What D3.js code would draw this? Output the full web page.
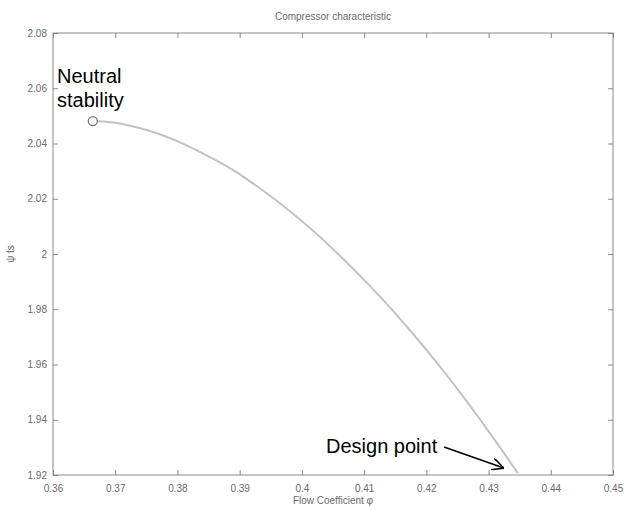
<!DOCTYPE html>
<html><head><meta charset="utf-8">
<script src="https://cdn.jsdelivr.net/npm/d3@7"></script>
<style>body{margin:0;background:#fff}</style>
</head><body>
<svg id="c" width="632" height="510"></svg>
<script>
// Data
const flowCoef = [0.3664, 0.3700, 0.3724, 0.3756, 0.3804, 0.3852, 0.3885, 0.3933, 0.3981, 0.4029, 0.4077, 0.4126, 0.4174, 0.4222, 0.4270, 0.4318, 0.4347];
const psiTs    = [2.0481, 2.0475, 2.0464, 2.0445, 2.0404, 2.0351, 2.0310, 2.0237, 2.0155, 2.0062, 1.9958, 1.9845, 1.9723, 1.9592, 1.9451, 1.9301, 1.9207];
const xTicks = [0.36, 0.37, 0.38, 0.39, 0.40, 0.41, 0.42, 0.43, 0.44, 0.45];
const yTicks = [1.92, 1.94, 1.96, 1.98, 2.00, 2.02, 2.04, 2.06, 2.08];
const neutralPoint = {x: 0.3664, y: 2.0481};
const designPoint = {x: 0.4347, y: 1.9207};

const svg = d3.select('#c');
const L = 53, R = 613, T = 33, B = 475;
const x = d3.scaleLinear().domain([0.36, 0.45]).range([L, R]);
const y = d3.scaleLinear().domain([1.92, 2.08]).range([B, T]);
const axCol = '#8a8a8a', txtCol = '#6a6a6a';
const fmt = d => String(+d.toFixed(2));

// box
svg.append('rect').attr('x', L).attr('y', T).attr('width', R - L).attr('height', B - T)
  .attr('fill', 'none').attr('stroke', axCol).attr('stroke-width', 1);

function styleAxis(g){
  g.select('.domain').remove();
  g.selectAll('line').attr('stroke', axCol);
  g.selectAll('text').attr('fill', txtCol).style('font-family', 'Arial, Liberation Sans, sans-serif').style('font-size', '10px');
}
svg.append('g').attr('transform', `translate(0,${B})`)
  .call(d3.axisBottom(x).tickValues(xTicks).tickFormat(fmt).tickSizeInner(-5).tickPadding(10))
  .call(styleAxis);
svg.append('g').attr('transform', `translate(0,${T})`)
  .call(d3.axisTop(x).tickValues(xTicks).tickFormat('').tickSizeInner(-5))
  .call(styleAxis);
svg.append('g').attr('transform', `translate(${L},0)`)
  .call(d3.axisLeft(y).tickValues(yTicks).tickFormat(fmt).tickSizeInner(-5).tickPadding(6))
  .call(styleAxis);
svg.append('g').attr('transform', `translate(${R},0)`)
  .call(d3.axisRight(y).tickValues(yTicks).tickFormat('').tickSizeInner(-5))
  .call(styleAxis);

// title and labels
svg.append('text').attr('x', 333).attr('y', 20).attr('text-anchor', 'middle')
  .attr('fill', txtCol).style('font', '10px Arial, sans-serif').text('Compressor characteristic');
svg.append('text').attr('x', 333).attr('y', 504).attr('text-anchor', 'middle')
  .attr('fill', txtCol).style('font', '10px Arial, sans-serif').text('Flow Coefficient φ');
svg.append('text').attr('transform', 'translate(14,254) rotate(-90)').attr('text-anchor', 'middle')
  .attr('fill', txtCol).style('font', '10px Arial, sans-serif').text('ψ ts');

// curve
const pts = flowCoef.map((v, i) => [v, psiTs[i]]);
svg.append('path').datum(pts)
  .attr('d', d3.line().x(d => x(d[0])).y(d => y(d[1])).curve(d3.curveMonotoneX))
  .attr('fill', 'none').attr('stroke', '#c2c2c2').attr('stroke-width', 2);

// neutral stability marker
svg.append('circle').attr('cx', x(neutralPoint.x)).attr('cy', y(neutralPoint.y)).attr('r', 4.5)
  .attr('fill', '#fff').attr('stroke', '#777').attr('stroke-width', 1.3);

// annotations
const ann = svg.append('g').style('font-family', 'Arial, Liberation Sans, sans-serif').style('font-size', '20px').attr('fill', '#000');
ann.append('text').attr('x', 57).attr('y', 83).text('Neutral');
ann.append('text').attr('x', 57).attr('y', 107).text('stability');
ann.append('text').attr('x', 326).attr('y', 453).text('Design point');

// arrow
svg.append('defs').append('marker').attr('id', 'ah').attr('viewBox', '0 0 10 10')
  .attr('refX', 10).attr('refY', 5).attr('markerWidth', 12).attr('markerHeight', 12)
  .attr('markerUnits', 'userSpaceOnUse').attr('orient', 'auto')
  .append('path').attr('d', 'M0,0 L10,5 L0,10').attr('fill', 'none').attr('stroke', '#000').attr('stroke-width', 1.3);
svg.append('line').attr('x1', 444).attr('y1', 447).attr('x2', x(designPoint.x) - 14).attr('y2', y(designPoint.y) - 5)
  .attr('stroke', '#000').attr('stroke-width', 1.5).attr('marker-end', 'url(#ah)');
</script>
</body></html>
